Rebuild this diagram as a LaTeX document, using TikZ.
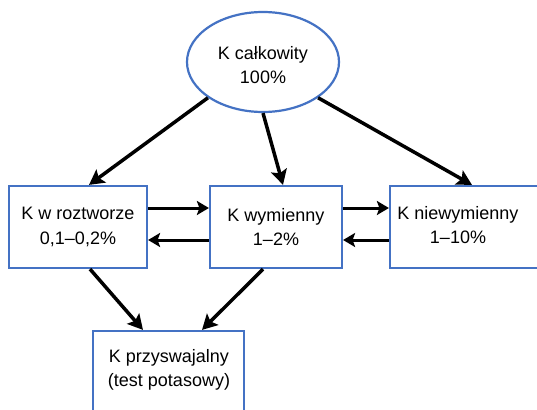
\documentclass[tikz,border=0pt]{standalone}
\usepackage{fontspec}
\setmainfont{Liberation Sans}
\usetikzlibrary{arrows.meta,calc,shapes.geometric}
\definecolor{boxblue}{HTML}{4472C4}
\tikzset{
  box/.style={draw=boxblue, line width=2.2pt, fill=white, align=center, inner sep=0pt,
    font=\fontsize{18}{24.5}\selectfont},
  txt/.style={align=center, inner sep=0pt, font=\fontsize{18}{24.5}\selectfont},
  arr/.style={line width=3.5pt, -{Stealth[length=15pt,width=16pt,inset=3pt]}},
  harr/.style={line width=3pt, -{Stealth[length=12pt,width=14pt,inset=2.5pt]}}
}
\begin{document}
\begin{tikzpicture}[x=1pt,y=-1pt]
\useasboundingbox (0,0) rectangle (537,409);
\clip (0,0) rectangle (537,409);
\fill[white] (0,0) rectangle (537,409);
\node[box, ellipse, minimum width=152pt, minimum height=100pt] (e) at (263,62) {};
\node[txt] (et) at (263,65) {K całkowity\\100\%};
\node[box, minimum width=138pt, minimum height=82pt] (b1) at (78,227) {K w roztworze\\0,1–0,2\%};
\node[box, minimum width=132pt, minimum height=82pt] (b2) at (276,227) {K wymienny\\1–2\%};
\node[box, minimum width=160pt, minimum height=82pt] (b3) at (470,227) {};
\node[txt] (b3t) at (458,225) {K niewymienny\\1–10\%};
\node[box, minimum width=151pt, minimum height=82pt] (b4) at (168.5,372) {};
\node[txt] (b4t) at (169,370) {K przyswajalny\\(test potasowy)};
\draw[arr] (e.213) -- ([xshift=11pt]b1.north);
\draw[arr] (e.270) -- ([xshift=7pt]b2.north);
\draw[arr] (e.327) -- ([xshift=2pt]b3.north);
\draw[harr] ([yshift=19pt]b1.east) -- ([yshift=19pt]b2.west);
\draw[harr] ([yshift=-13pt]b2.west) -- ([yshift=-13pt]b1.east);
\draw[harr] ([yshift=19pt]b2.east) -- ([yshift=19pt]b3.west);
\draw[harr] ([yshift=-13pt]b3.west) -- ([yshift=-13pt]b2.east);
\draw[arr] ([xshift=12pt]b1.south) -- ([xshift=-25.5pt]b4.north);
\draw[arr] ([xshift=-13pt]b2.south) -- ([xshift=33.5pt]b4.north);
\end{tikzpicture}
\end{document}
